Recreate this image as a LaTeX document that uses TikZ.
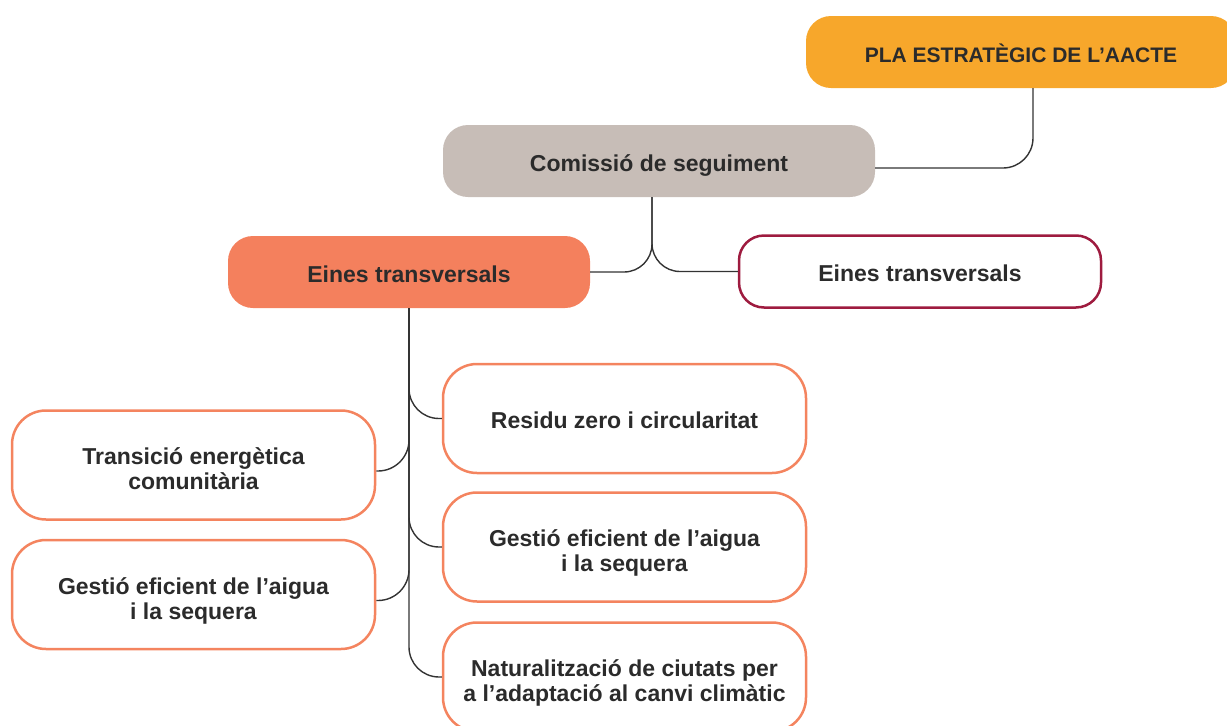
\documentclass[tikz,border=0pt]{standalone}
\usepackage{fontspec}
\setmainfont{Liberation Sans}
\definecolor{plaor}{HTML}{F7A72B}
\definecolor{comgr}{HTML}{C7BDB7}
\definecolor{einor}{HTML}{F4805D}
\definecolor{darkred}{HTML}{9E1B3F}
\definecolor{boxor}{HTML}{F4845F}
\definecolor{txt}{HTML}{2B2B2B}
\definecolor{lin}{HTML}{333333}
\newcommand\lotext[2][5pt]{\raisebox{-#1}[\height][\depth]{\begin{tabular}{@{}c@{}}#2\end{tabular}}}
\tikzset{
  base/.style={rounded corners=25pt, text=txt, align=center, inner sep=0pt,
    font=\fontsize{23}{25}\selectfont\bfseries},
  small/.style={base, minimum height=72pt},
  tall/.style={base, minimum width=363pt, minimum height=109pt, rounded corners=34pt,
    draw=boxor, line width=2.5pt, fill=white},
  conn/.style={draw=lin, line width=1.4pt},
}
\begin{document}
\begin{tikzpicture}[x=1pt,y=-1pt]
\useasboundingbox (0,0) rectangle (1227,726);
\node[small, fill=plaor, minimum width=430pt, font=\fontsize{21}{25}\selectfont\bfseries] (pla) at (1021,52) {\lotext{PLA ESTRATÈGIC DE L’AACTE}};
\node[small, fill=comgr, minimum width=432pt] (com) at (659,161) {\lotext{Comissió de seguiment}};
\node[small, fill=einor, minimum width=362pt] (ein1) at (409,272) {\lotext{Eines transversals}};
\node[small, draw=darkred, line width=2.5pt, fill=white, minimum width=362pt] (ein2) at (920,271.5) {\lotext{Eines transversals}};
\node[tall] (res) at (624.5,418.5) {\lotext{Residu zero i circularitat}};
\node[tall] (gesr) at (624.5,547) {\lotext[7pt]{Gestió eficient de l’aigua\\i la sequera}};
\node[tall] (nat) at (624.5,677) {\lotext[7pt]{Naturalització de ciutats per\\a l’adaptació al canvi climàtic}};
\node[tall] (tra) at (193.5,465) {\lotext[7pt]{Transició energètica\\comunitària}};
\node[tall] (gesl) at (193.5,594.5) {\lotext[7pt]{Gestió eficient de l’aigua\\i la sequera}};
\draw[conn, rounded corners=30pt] ([xshift=12pt]pla.south) |- ([yshift=-7pt]com.east);
\draw[conn, rounded corners=28pt] ([xshift=-7pt]com.south) |- (ein1.east);
\draw[conn, rounded corners=28pt] ([xshift=-7pt]com.south) |- (ein2.west);
\draw[conn, rounded corners=30pt] (ein1.south) |- (res.west);
\draw[conn, rounded corners=30pt] (ein1.south) |- (gesr.west);
\draw[conn, rounded corners=30pt] (ein1.south) |- (nat.west);
\draw[conn, rounded corners=31pt] (ein1.south) |- ([yshift=-6pt]tra.east);
\draw[conn, rounded corners=31pt] (ein1.south) |- ([yshift=-6pt]gesl.east);
\end{tikzpicture}
\end{document}
